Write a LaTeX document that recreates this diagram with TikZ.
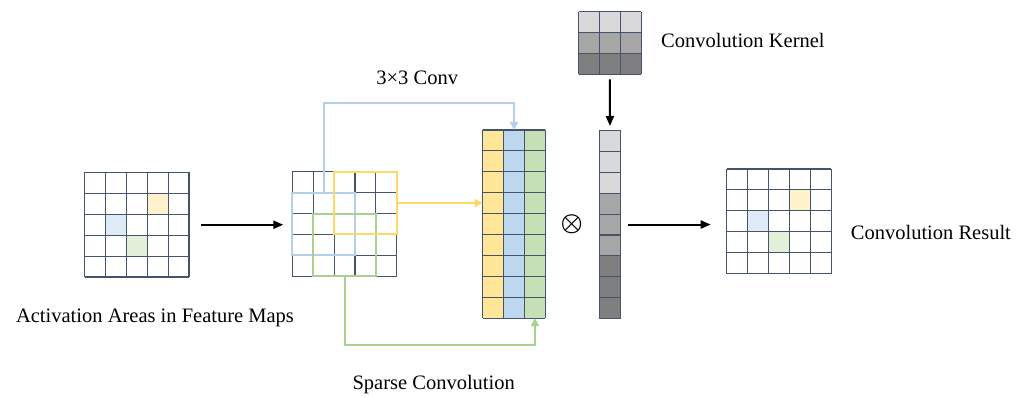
\documentclass[tikz,border=0pt]{standalone}
\usepackage{fontspec}
\setmainfont{Liberation Serif}
\usepackage{tikz}
\usetikzlibrary{calc,arrows.meta,positioning}
\definecolor{gridc}{HTML}{44546A}
\definecolor{yelfill}{HTML}{FFE699}
\definecolor{blufill}{HTML}{BDD7EE}
\definecolor{grnfill}{HTML}{C5E0B4}
\definecolor{yelsoft}{HTML}{FFF2CC}
\definecolor{blusoft}{HTML}{DEEBF7}
\definecolor{grnsoft}{HTML}{E2F0D9}
\definecolor{yelline}{HTML}{FFD966}
\definecolor{bluline}{HTML}{B4CFEA}
\definecolor{grnline}{HTML}{A9D18E}
\definecolor{lgray}{HTML}{D9D9D9}
\definecolor{mgray}{HTML}{A6A6A6}
\definecolor{dgray}{HTML}{7F7F7F}
\def\cs{20.9}
\tikzset{
  gline/.style={draw=gridc,line width=1.1pt},
  grid5/.style={inner sep=0pt,outer sep=0pt,minimum width=104.5pt,minimum height=104.5pt,anchor=north west},
  colbox/.style={inner sep=0pt,outer sep=0pt,minimum width=20.9pt,minimum height=188.1pt,anchor=north west},
  kernbox/.style={inner sep=0pt,outer sep=0pt,minimum width=62.7pt,minimum height=62.7pt,anchor=north west},
  win/.style={draw,line width=2pt,inner sep=0pt,outer sep=0pt,minimum width=62.7pt,minimum height=62.7pt,anchor=north west},
  ar/.style={-{Triangle[length=10pt,width=8pt]},line width=2pt,black},
  car/.style={-{Triangle[length=8pt,width=8pt]},line width=2pt},
  lbl/.style={font=\rmfamily\fontsize{20.5}{24}\selectfont,inner sep=0pt,anchor=base}
}
% grid lines over a node: node, columns, rows
\newcommand{\cellgrid}[3]{%
  \begin{scope}[shift={(#1.north west)}]
    \foreach \i in {0,...,#2} \draw[gline] (\i*\cs,0) -- (\i*\cs,#3*\cs);
    \foreach \j in {0,...,#3} \draw[gline] (0,\j*\cs) -- (#2*\cs,\j*\cs);
  \end{scope}}
\newcommand{\cellfill}[4]{\fill[#4] ($(#1.north west)+(#2*\cs,#3*\cs)$) rectangle ++(\cs,\cs);}

\begin{document}
\begin{tikzpicture}[x=1pt,y=-1pt]
\useasboundingbox (0,0) rectangle (1027,398);

% input feature map
\node[grid5] (fmap) at (84.5,172.5) {};
\cellfill{fmap}{3}{1}{yelsoft}
\cellfill{fmap}{1}{2}{blusoft}
\cellfill{fmap}{2}{3}{grnsoft}
\cellgrid{fmap}{5}{5}

% feature map with windows
\node[grid5] (wmap) at (292.3,171.7) {};
\cellgrid{wmap}{5}{5}
\node[win,draw=bluline] (bluewin) at ($(wmap.north west)+(0,\cs)$) {};
\node[win,draw=grnline] (grnwin) at ($(wmap.north west)+(\cs,2*\cs)$) {};
\node[win,draw=yelline] (yelwin) at ($(wmap.north west)+(2*\cs,0)$) {};

% gathered columns
\node[colbox,fill=yelfill] (ycol) at (482.7,130) {};
\node[colbox,fill=blufill,right=0pt of ycol] (bcol) {};
\node[colbox,fill=grnfill,right=0pt of bcol] (gcol) {};
\cellgrid{ycol}{3}{9}

% kernel and flattened kernel
\node[kernbox] (kern) at (578.5,11.7) {};
\foreach \r/\cl in {0/lgray,1/mgray,2/dgray}
  \fill[\cl] ($(kern.north west)+(0,\r*\cs)$) rectangle ++(3*\cs,\cs);
\cellgrid{kern}{3}{3}
\node[colbox] (kcol) at (599.5,130.5) {};
\foreach \r/\cl in {0/lgray,1/lgray,2/lgray,3/mgray,4/mgray,5/mgray,6/dgray,7/dgray,8/dgray}
  {\cellfill{kcol}{0}{\r}{\cl}}
\cellgrid{kcol}{1}{9}

% result
\node[grid5] (res) at (726.7,169) {};
\cellfill{res}{3}{1}{yelsoft}
\cellfill{res}{1}{2}{blusoft}
\cellfill{res}{2}{3}{grnsoft}
\cellgrid{res}{5}{5}

\node[font=\fontsize{25}{30}\selectfont\boldmath,inner sep=0pt] (times) at (571.7,224.3) {$\otimes$};

% connectors
\draw[ar,shorten <=12pt,shorten >=9pt] (fmap.east) -- (fmap.east -| wmap.west);
\draw[car,bluline] (bluewin.north) |- ([yshift=26.7pt]bcol.north) -- (bcol.north);
\draw[car,yelline] (yelwin.east) -- (yelwin.east -| ycol.west);
\draw[car,grnline] (grnwin.south) |- ([yshift=-26.7pt]gcol.south) -- (gcol.south);
\draw[ar,shorten <=5pt,shorten >=4.5pt] (kern.south) -- (kcol.north);
\draw[ar,shorten <=8pt,shorten >=16pt] (kcol.east) -- (kcol.east -| res.west);

% labels
\node[lbl] (actlbl) at (155,322.7) {Activation Areas in Feature Maps};
\node[lbl] (convlbl) at (417.2,85) {3×3 Conv};
\node[lbl] (sparselbl) at (433.7,389.3) {Sparse Convolution};
\node[lbl] (kernlbl) at (742.9,47.3) {Convolution Kernel};
\node[lbl] (reslbl) at (930.9,239.3) {Convolution Result};
\end{tikzpicture}
\end{document}
